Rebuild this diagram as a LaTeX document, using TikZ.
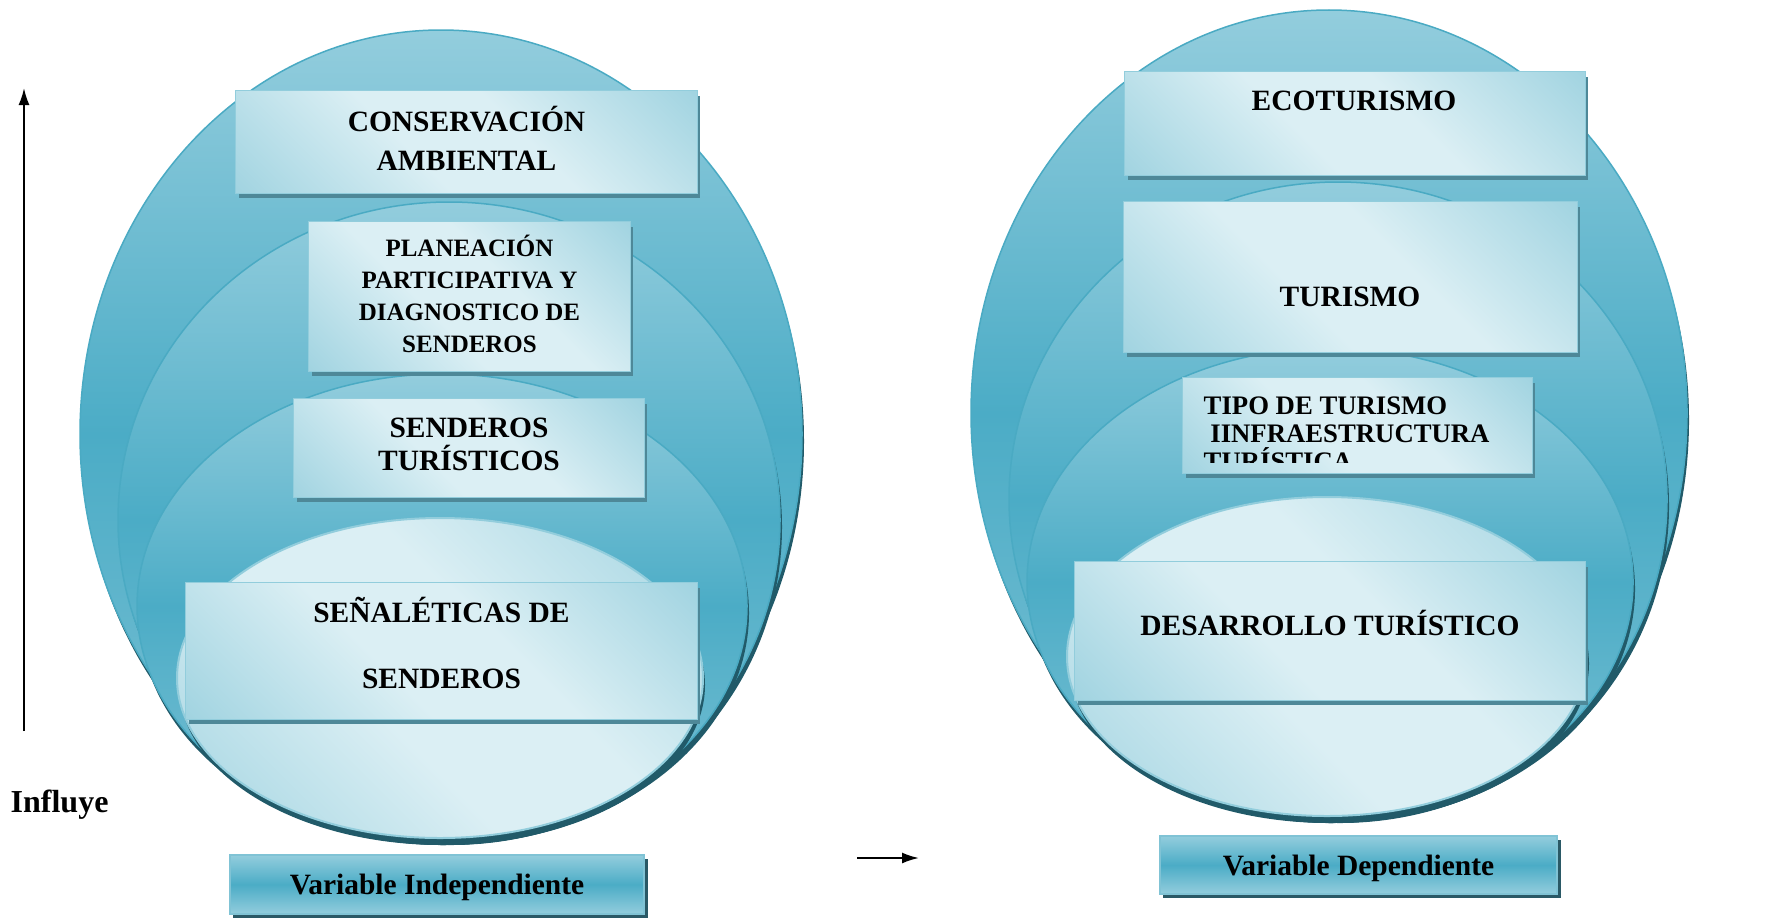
\documentclass[tikz,border=0pt]{standalone}
\usepackage{fontspec}
\setmainfont{Liberation Serif}
\usetikzlibrary{arrows.meta,shadows,positioning}

\definecolor{VennTop}{HTML}{93CDDD}
\definecolor{VennMid}{HTML}{4BACC6}
\definecolor{VennBot}{HTML}{7CC1D4}
\definecolor{VennLine}{HTML}{4AAAC3}
\definecolor{VennShadow}{HTML}{215A69}
\definecolor{GlossLight}{HTML}{DBEFF4}
\definecolor{GlossBlue}{HTML}{A2D4E1}
\definecolor{BoxLine}{HTML}{92CDDC}
\definecolor{BoxShadow}{HTML}{4E8898}
\definecolor{VarShadow}{HTML}{2A5966}

\pgfdeclareverticalshading{GlossShade}{100bp}{color(0bp)=(GlossBlue); color(15bp)=(GlossBlue); color(42bp)=(GlossLight); color(58bp)=(GlossLight); color(85bp)=(GlossBlue); color(100bp)=(GlossBlue)}

\begin{document}
\begin{tikzpicture}[x=0.01cm, y=-0.01cm]
  \useasboundingbox (0,0) rectangle (1779,918);
  \tikzset{RingStyle/.style = {draw           = VennLine,
                               line width     = 0.015cm,
                               top color      = VennTop,
                               bottom color   = VennBot,
                               middle color   = VennMid,
                               drop shadow    = {shadow xshift = 0.02cm, shadow yshift = -0.07cm,
                                                 fill = VennShadow, opacity = 1}}}

  \tikzset{CoreStyle/.style = {draw           = BoxLine,
                               line width     = 0.02cm,
                               shade,
                               shading        = GlossShade,
                               shading angle  = -45,
                               drop shadow    = {shadow xshift = 0.02cm, shadow yshift = -0.07cm,
                                                 fill = VennShadow, opacity = 1}}}

  \tikzset{BoxStyle/.style = {rectangle,
                              draw            = BoxLine,
                              line width      = 0.01cm,
                              shade,
                              shading         = GlossShade,
                              shading angle   = -45,
                              drop shadow     = {shadow xshift = 0.03cm, shadow yshift = -0.05cm,
                                                 fill = BoxShadow, opacity = 1},
                              inner sep       = 0pt}}

  \tikzset{VarStyle/.style = {rectangle,
                              draw            = VennLine!70!white,
                              line width      = 0.015cm,
                              top color       = VennTop,
                              bottom color    = VennTop,
                              middle color    = VennMid,
                              drop shadow     = {shadow xshift = 0.035cm, shadow yshift = -0.04cm,
                                                 fill = VarShadow, opacity = 1},
                              inner sep       = 0pt,
                              text height     = 0.2cm,
                              text depth      = 0cm,
                              font            = \bfseries\fontsize{8.38}{10}\selectfont}}

  \tikzset{TextStyle/.style = {inner sep = 0pt, align = center, font = \bfseries\fontsize{8.38}{11.1}\selectfont}}

  \tikzset{ArrowStyle/.style = {-{Latex[length=0.17cm, width=0.11cm]}, line width = 0.02cm}}

  % independent variable
  \path[RingStyle] (441,434) ellipse [x radius=361, y radius=404];
  \path[RingStyle] (449,520) ellipse [x radius=331, y radius=318];
  \path[RingStyle] (442,606) ellipse [x radius=305, y radius=232];
  \path[CoreStyle] (440,678) ellipse [x radius=263, y radius=160];

  \node[BoxStyle, minimum width=4.61cm, minimum height=1.02cm] (conservacion) at (466.5,142) {};
  \node[TextStyle] (conservtext) at ([yshift=0.034cm]conservacion.center) {CONSERVACIÓN\\AMBIENTAL};
  \node[BoxStyle, minimum width=3.21cm, minimum height=1.49cm] (planeacion) at (469.5,296.5) {};
  \node[TextStyle, font=\bfseries\fontsize{7.1}{9.1}\selectfont] (planeatext) at ([yshift=0.026cm]planeacion.center) {PLANEACIÓN\\PARTICIPATIVA Y\\DIAGNOSTICO DE\\SENDEROS};
  \node[BoxStyle, minimum width=3.5cm, minimum height=0.98cm] (senderos) at (469,448) {};
  \node[TextStyle, font=\bfseries\fontsize{8.38}{9.4}\selectfont] (sendertext) at ([yshift=0.034cm]senderos.center) {SENDEROS\\TURÍSTICOS};
  \node[BoxStyle, minimum width=5.11cm, minimum height=1.36cm] (senaleticas) at (441.5,651) {};
  \node[TextStyle, font=\bfseries\fontsize{8.38}{18.5}\selectfont] (senaltext) at ([yshift=0.08cm]senaleticas.center) {SEÑALÉTICAS DE\\SENDEROS};
  \node[VarStyle, minimum width=4.14cm, minimum height=0.59cm] (independiente) at (437,884.5) {Variable Independiente};

  % dependent variable
  \path[RingStyle] (1329,413) ellipse [x radius=358, y radius=403];
  \path[RingStyle] (1338,499) ellipse [x radius=329, y radius=317];
  \path[RingStyle] (1330,582) ellipse [x radius=303, y radius=234];
  \path[CoreStyle] (1327,656.5) ellipse [x radius=260, y radius=159.5];

  \node[BoxStyle, minimum width=4.6cm, minimum height=1.03cm] (ecoturismo) at (1355,123.5) {};
  \node[TextStyle] (ecotext) at (1354,101) {ECOTURISMO};
  \node[BoxStyle, minimum width=4.53cm, minimum height=1.5cm] (turismo) at (1350.5,277) {};
  \node[TextStyle] (turtext) at (1350,297) {TURISMO};
  \node[BoxStyle, minimum width=3.49cm, minimum height=0.95cm] (tipo) at (1357.5,425.5) {};
  \begin{scope}
    \clip (1183,378) rectangle (1532,462);
    \node[TextStyle, anchor=north west, align=left,
          font=\bfseries\fontsize{7.6}{7.95}\selectfont] (tipotext) at (1203,396) {TIPO DE TURISMO\\\hspace*{0.25em}IINFRAESTRUCTURA\\TURÍSTICA};
  \end{scope}
  \node[BoxStyle, minimum width=5.1cm, minimum height=1.38cm] (desarrollo) at (1330,631) {};
  \node[TextStyle] (desartext) at ([yshift=0.085cm]desarrollo.center) {DESARROLLO TURÍSTICO};
  \node[VarStyle, minimum width=3.97cm, minimum height=0.58cm] (dependiente) at (1358.5,865) {Variable Dependiente};

  % influence arrows
  \coordinate (up_a) at (24,731);
  \coordinate (up_b) at (24,88);
  \draw[ArrowStyle] (up_a) -- (up_b);
  \node[TextStyle, anchor=base west, font=\bfseries\fontsize{9.1}{11}\selectfont] (influye) at (10,812) {Influye};
  \coordinate (right_a) at (857,858);
  \coordinate (right_b) at (919,858);
  \draw[ArrowStyle] (right_a) -- (right_b);
\end{tikzpicture}
\end{document}
